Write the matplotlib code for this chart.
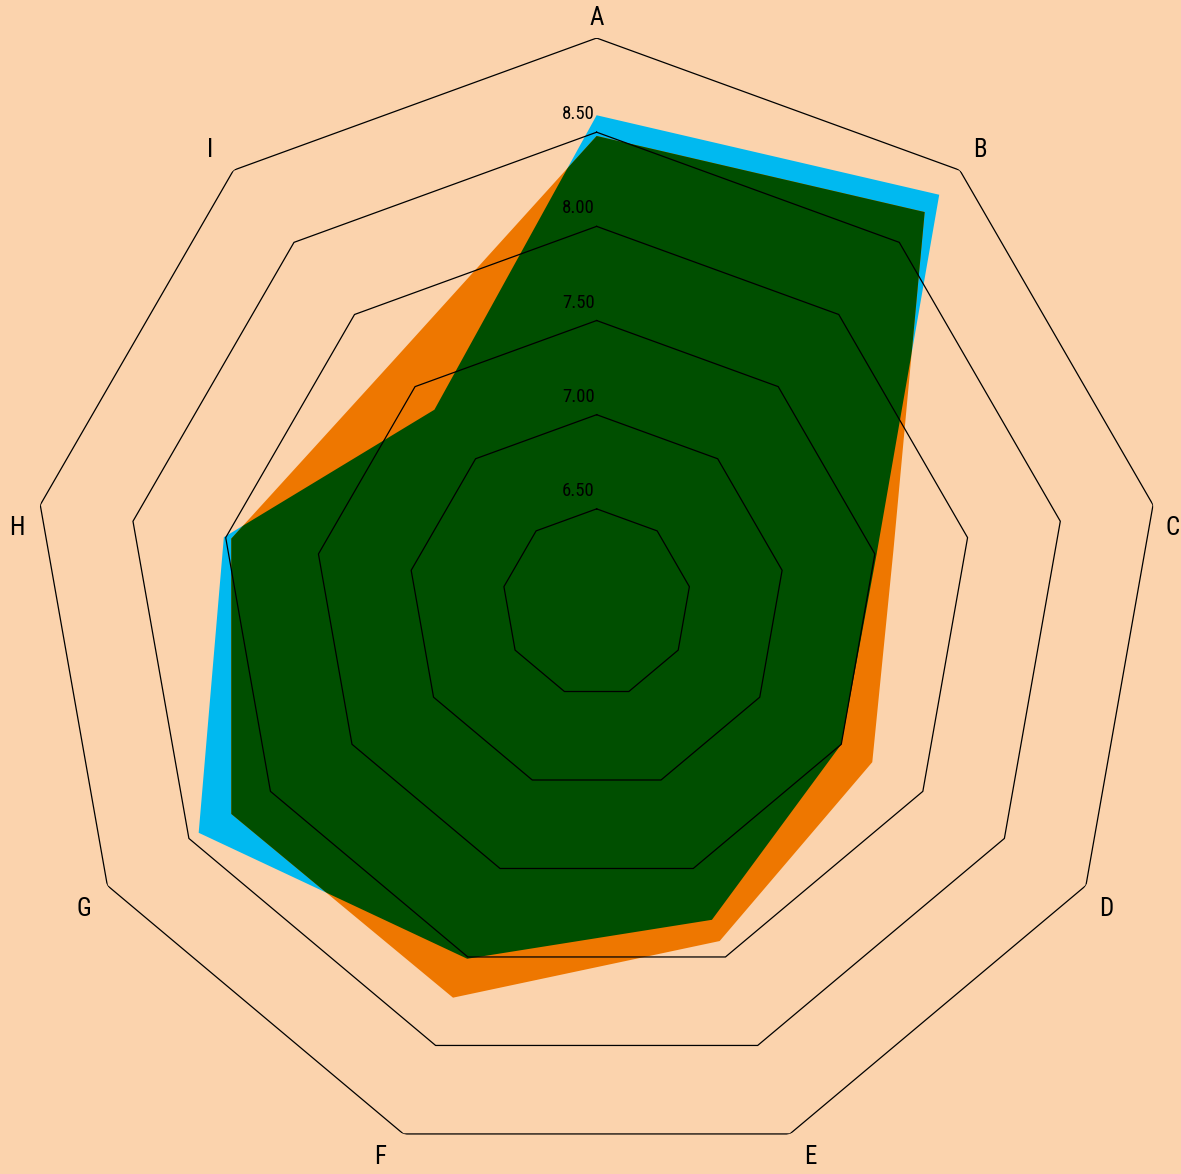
import numpy as np
import matplotlib.pyplot as plt

categories = ['A', 'B', 'C', 'D', 'E', 'F', 'G', 'H', 'I']
series_blue = [8.59, 8.83, 7.51, 7.50, 7.79, 8.01, 8.44, 8.01, 7.34]
series_orange = [8.48, 8.71, 7.60, 7.69, 7.91, 8.23, 8.24, 7.97, 7.68]
ring_levels = [6.5, 7.0, 7.5, 8.0, 8.5, 9.0]
ring_labels = ['6.50', '7.00', '7.50', '8.00', '8.50']

bg = '#FBD3AD'
c_blue = '#00B9F0'
c_orange = '#EE7700'
c_green = '#004F00'
font = ['Roboto Condensed', 'Liberation Sans Narrow', 'Roboto', 'DejaVu Sans']

n = len(categories)
theta = np.arange(n) * 2 * np.pi / n
theta_c = np.append(theta, theta[0])

fig = plt.figure(figsize=(11.81, 11.74), dpi=100, facecolor=bg)
ax = fig.add_axes([0.0268, 0.0051, 0.9568, 0.9625], projection='polar')
ax.set_facecolor(bg)
ax.set_theta_zero_location('N')
ax.set_theta_direction(-1)
ax.set_ylim(6, 9)
ax.grid(False)
ax.spines['polar'].set_visible(False)
ax.set_xticks([])
ax.set_yticks([])

blue_poly = ax.fill(theta_c, np.append(series_blue, series_blue[0]),
                    color=c_blue, lw=0, zorder=1)[0]
ax.fill(theta_c, np.append(series_orange, series_orange[0]),
        color=c_orange, lw=0, zorder=2)
# overlap of the two series shows as dark green
overlap = ax.fill(theta_c, np.append(series_orange, series_orange[0]),
                  color=c_green, lw=0, zorder=3)[0]
overlap.set_clip_path(blue_poly)

for lv in ring_levels:
    ax.plot(theta_c, [lv] * (n + 1), color='black', lw=0.9, zorder=4)

for lv, lab in zip(ring_levels, ring_labels):
    ax.annotate(lab, xy=(0, lv), xytext=(-2, 13), textcoords='offset pixels',
                ha='right', va='baseline', fontsize=13.5, family=font,
                fontstretch='condensed', color='black', zorder=5)

for t, lab in zip(theta, categories):
    s, c = np.sin(t), np.cos(t)
    dx = 0 if abs(s) < 0.01 else (20 if s > 0 else -23)
    dy = 20 if c > 0.5 else -23
    ax.annotate(lab, xy=(t, ring_levels[-1]), xytext=(dx, dy),
                textcoords='offset pixels', ha='center', va='center',
                fontsize=18, family=font, fontstretch='condensed',
                color='black', zorder=5, annotation_clip=False)

fig.savefig('out.png', dpi=100, facecolor=bg)
